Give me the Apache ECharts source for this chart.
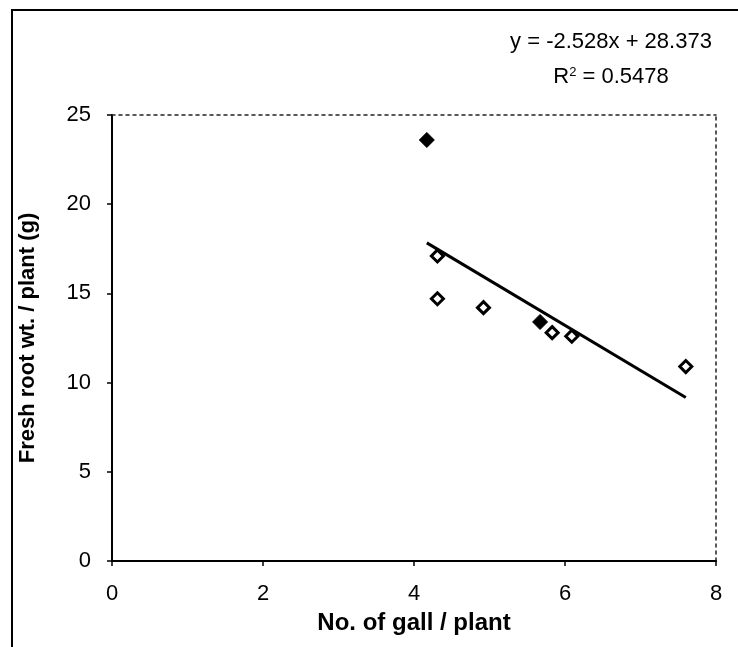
<!DOCTYPE html>
<html>
<head>
<meta charset="utf-8">
<script src="https://cdn.jsdelivr.net/npm/echarts@6/dist/echarts.min.js"></script>
<style>
  html, body { margin: 0; padding: 0; background: #fff; }
  #chart { width: 738px; height: 647px; }
</style>
</head>
<body>
<div id="chart"></div>
<script>
// galls per plant vs fresh root weight
var gallX = [4.17, 4.31, 4.31, 4.92, 5.67, 5.83, 6.09, 7.6];
var rootWt = [23.6, 17.1, 14.7, 14.2, 13.4, 12.8, 12.6, 10.9];
var solid = [true, false, false, false, true, false, false, false];

// linear fit shown on chart
var slope = -2.528;
var intercept = 28.373;
var fitRange = [4.17, 7.6];

var pts = [];
for (var i = 0; i < gallX.length; i++) {
    pts.push({
        value: [gallX[i], rootWt[i]],
        symbolSize: solid[i] ? 15 : 12,
        itemStyle: solid[i] ? { color: '#000', borderWidth: 1 } : { color: '#fff', borderWidth: 3 }
    });
}
var fitLine = fitRange.map(function (x) { return [x, slope * x + intercept]; });

var font = 'Arial, "Liberation Sans", sans-serif';
var chart = echarts.init(document.getElementById('chart'));
var option = {
    animation: false,
    backgroundColor: '#fff',
    grid: { left: 112, right: 22, top: 115, bottom: 86 },
    graphic: [
        {
            type: 'rect',
            shape: { x: 12, y: 10, width: 740, height: 700 },
            style: { fill: 'none', stroke: '#000', lineWidth: 2 }
        },
        {
            type: 'text',
            style: {
                x: 611, y: 42,
                text: 'y = -2.528x + 28.373',
                font: '22px ' + font,
                fill: '#000',
                align: 'center',
                verticalAlign: 'middle'
            }
        },
        {
            type: 'text',
            style: {
                x: 611, y: 77,
                text: 'R{s|2} = 0.5478',
                font: '22px ' + font,
                fill: '#000',
                align: 'center',
                verticalAlign: 'middle',
                rich: { s: { fontSize: 13, fontFamily: font, verticalAlign: 'top', padding: [0, 0, 10, 0] } }
            }
        }
    ],
    xAxis: [
        {
            type: 'value', min: 0, max: 8, interval: 2,
            name: 'No. of gall / plant',
            nameLocation: 'middle', nameGap: 50,
            nameTextStyle: { fontSize: 24, fontWeight: 'bold', fontFamily: font, color: '#000' },
            axisLine: { onZero: false, lineStyle: { color: '#000', width: 2 } },
            axisTick: { show: true, length: 5, lineStyle: { color: '#000', width: 1.5 } },
            axisLabel: { fontSize: 22, fontFamily: font, color: '#000', margin: 22 },
            splitLine: { show: false }
        },
        {
            type: 'value', min: 0, max: 8, position: 'top',
            axisLine: { show: true, onZero: false, lineStyle: { color: '#222', width: 1.5, type: [3, 4] } },
            axisTick: { show: false }, axisLabel: { show: false }, splitLine: { show: false }
        }
    ],
    yAxis: [
        {
            type: 'value', min: 0, max: 25, interval: 5,
            name: 'Fresh root wt. / plant (g)',
            nameLocation: 'middle', nameGap: 73,
            nameTextStyle: { fontSize: 22, fontWeight: 'bold', fontFamily: font, color: '#000' },
            axisLine: { show: true, onZero: false, lineStyle: { color: '#000', width: 2 } },
            axisTick: { show: true, length: 5, lineStyle: { color: '#000', width: 1.5 } },
            axisLabel: { fontSize: 22, fontFamily: font, color: '#000', margin: 21 },
            splitLine: { show: false }
        },
        {
            type: 'value', min: 0, max: 25, position: 'right',
            axisLine: { show: true, onZero: false, lineStyle: { color: '#222', width: 1.5, type: [3, 4] } },
            axisTick: { show: false }, axisLabel: { show: false }, splitLine: { show: false }
        }
    ],
    series: [
        {
            type: 'line',
            data: fitLine,
            showSymbol: false,
            lineStyle: { color: '#000', width: 3 },
            silent: true
        },
        {
            type: 'scatter',
            data: pts,
            symbol: 'diamond',
            itemStyle: { borderColor: '#000', opacity: 1 },
            z: 3
        }
    ]
};
chart.setOption(option);
</script>
</body>
</html>
